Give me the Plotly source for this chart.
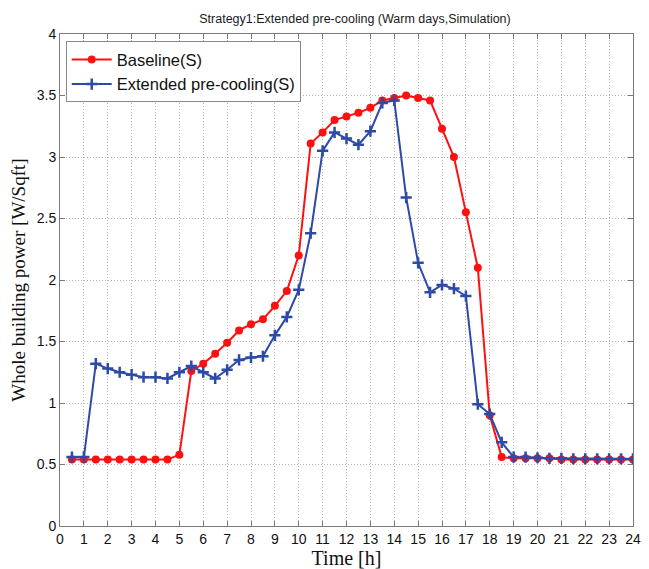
import plotly.graph_objects as go

# Time of day [h], half-hour steps
hours = [0.5, 1, 1.5, 2, 2.5, 3, 3.5, 4, 4.5, 5, 5.5, 6, 6.5, 7, 7.5, 8,
         8.5, 9, 9.5, 10, 10.5, 11, 11.5, 12, 12.5, 13, 13.5, 14, 14.5, 15,
         15.5, 16, 16.5, 17, 17.5, 18, 18.5, 19, 19.5, 20, 20.5, 21, 21.5,
         22, 22.5, 23, 23.5, 24]

# Whole building power [W/Sqft]
baseline = [0.54, 0.54, 0.54, 0.54, 0.54, 0.54, 0.54, 0.54, 0.54, 0.58,
            1.26, 1.32, 1.40, 1.49, 1.59, 1.64, 1.68, 1.79, 1.91, 2.20,
            3.11, 3.20, 3.30, 3.33, 3.36, 3.40, 3.46, 3.48, 3.50, 3.48,
            3.46, 3.23, 3.00, 2.55, 2.10, 0.90, 0.56, 0.55, 0.55, 0.55,
            0.55, 0.54, 0.54, 0.54, 0.54, 0.54, 0.54, 0.54]

precool = [0.56, 0.56, 1.32, 1.28, 1.25, 1.23, 1.21, 1.21, 1.20, 1.25,
           1.30, 1.25, 1.20, 1.27, 1.35, 1.37, 1.38, 1.55, 1.70, 1.92,
           2.38, 3.05, 3.20, 3.15, 3.10, 3.21, 3.44, 3.46, 2.67, 2.14,
           1.90, 1.96, 1.93, 1.87, 0.99, 0.91, 0.68, 0.56, 0.56, 0.555,
           0.55, 0.55, 0.545, 0.545, 0.545, 0.545, 0.545, 0.545]

x_ticks = list(range(0, 25))
y_ticks = [0, 0.5, 1, 1.5, 2, 2.5, 3, 3.5, 4]

RED = "#ff1010"
BLUE = "#2c4aa6"

fig = go.Figure()
fig.add_trace(go.Scatter(
    x=hours, y=baseline, name="Baseline(S)", mode="lines+markers",
    line=dict(color=RED, width=2),
    marker=dict(symbol="circle", size=8, color=RED),
))
fig.add_trace(go.Scatter(
    x=hours, y=precool, name="Extended pre-cooling(S)", mode="lines+markers",
    line=dict(color=BLUE, width=2),
    marker=dict(symbol="cross-thin", size=8, line=dict(color=BLUE, width=2.5)),
))

axis_common = dict(
    showline=True, linecolor="#7a7a7a", linewidth=1, mirror="ticks",
    ticks="inside", ticklen=5, tickcolor="#7a7a7a",
    showgrid=True, gridcolor="#b5b5b5", griddash="1px,2px", gridwidth=1,
    zeroline=False,
    tickfont=dict(family="Arial, Liberation Sans", size=14, color="#111"),
)

fig.update_xaxes(
    range=[0, 24], tickvals=x_ticks, ticktext=[str(v) for v in x_ticks],
    title=dict(text="Time [h]", standoff=0,
               font=dict(family="Liberation Serif, Times New Roman", size=20, color="#111")),
    **axis_common,
)
fig.update_yaxes(
    range=[0, 4], tickvals=y_ticks, ticktext=[f"{v:g}" for v in y_ticks],
    title=dict(text="Whole building power [W/Sqft]", standoff=6,
               font=dict(family="Liberation Serif, Times New Roman", size=19, color="#111")),
    **axis_common,
)

fig.update_layout(
    width=649, height=569,
    margin=dict(l=60, r=8, t=34, b=40),
    paper_bgcolor="white", plot_bgcolor="white",
    title=dict(text="Strategy1:Extended pre-cooling (Warm days,Simulation)",
               x=0.547, xanchor="center", y=0.968, yanchor="middle",
               font=dict(family="Arial, Liberation Sans", size=12.5, color="#1a1a1a")),
    legend=dict(x=0.01, y=0.985, xanchor="left", yanchor="top",
                bgcolor="white", bordercolor="#8a8a8a", borderwidth=1,
                font=dict(family="Arial, Liberation Sans", size=16.5, color="#111"),
                tracegroupgap=0, itemwidth=40),
    showlegend=True,
)

fig.write_html("out.html")
